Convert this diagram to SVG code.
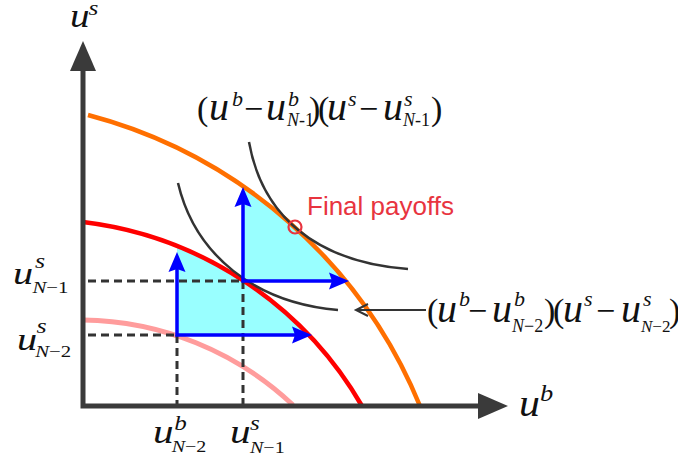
<svg xmlns="http://www.w3.org/2000/svg" width="678" height="461" viewBox="0 0 678 461">
<style>
.m{font-family:"Liberation Serif","Times New Roman",serif;fill:#111}
.i{font-style:italic}
.ax{stroke:#3a3a3a;stroke-width:5;fill:none}
.axh{fill:#3a3a3a}
.dash{stroke:#333;stroke-width:3;stroke-dasharray:8 5;fill:none}
.hyp{stroke:#333;stroke-width:2.5;fill:none}
.blue{stroke:#0000ff;stroke-width:3.5;fill:none;marker-start:url(#bh);marker-end:url(#bh)}
.cyan{fill:#99ffff}
</style>
<defs>
<marker id="bh" markerUnits="userSpaceOnUse" markerWidth="24" markerHeight="20" viewBox="0 -10 24 20" refX="3" refY="0" orient="auto-start-reverse">
<path d="M0,-8.5 L20,0 L0,8.5 L3,0 Z" fill="#0000ff"/>
</marker>
</defs>
<g id="regions">
<path class="cyan" d="M177,335 L177,246 A374,374 0 0,1 308.5,335 Z"/>
<path class="cyan" d="M243,281 L243,186.2 A495,495 0 0,1 345.7,281 Z"/>
</g>
<g id="frontiers">
<path id="pink" d="M83,320 A312,312 0 0,1 293,405" stroke="#ff9c9c" stroke-width="5" fill="none"/>
<path id="red" d="M83,222 A374,374 0 0,1 362,406" stroke="#ff0000" stroke-width="4.5" fill="none"/>
<path id="orange" d="M88,115 A495,495 0 0,1 420,406" stroke="#ff6f00" stroke-width="4.5" fill="none"/>
</g>
<g id="indifference">
<path class="hyp" d="M249,142 C262,215 315,262 408,269"/>
<path class="hyp" d="M178,183 C195,255 255,303 338,310"/>
</g>
<g id="connectors">
<path class="dash" d="M88,281 H243 M88,335 H177 M177,335 V404 M243,281 V404"/>
<path class="blue" d="M177,269 L177,335 L295,335"/>
<path class="blue" d="M243,204 L243,281 L332,281"/>
<path d="M426,310 H357 M368,304 L356,310 L368,316" stroke="#333" stroke-width="2" fill="none"/>
</g>
<g id="axes">
<path class="ax" d="M83,408.5 V66 M80.5,406 H480"/>
<polygon class="axh" points="83,41 70,71 96,71"/>
<polygon class="axh" points="508,406 478,393 478,419"/>
</g>
<g id="final-payoffs">
<circle cx="295" cy="227" r="6.5" fill="none" stroke="#e8343f" stroke-width="2.2"/>
<text x="307" y="215" font-family="'Liberation Sans',Arial,sans-serif" font-size="26" fill="#e8343f">Final payoffs</text>
</g>
<g id="labels">
<text class="m" font-size="34" transform="translate(70,27) scale(1.15,1)"><tspan class="i" x="0" y="0">u</tspan><tspan class="i" x="16" y="-12" font-size="22">s</tspan></text>
<text class="m" font-size="38" transform="translate(519,416) scale(1.1,1)"><tspan class="i" x="0" y="0">u</tspan><tspan class="i" x="19" y="-15" font-size="24">b</tspan></text>
<text class="m" font-size="31" transform="translate(13,284) scale(1.3,1)"><tspan class="i" x="0" y="0">u</tspan><tspan class="i" x="17" y="-16" font-size="20">s</tspan><tspan class="i" x="15" y="9" font-size="16">N</tspan><tspan font-size="16">−1</tspan></text>
<text class="m" font-size="31" transform="translate(17,350) scale(1.3,1)"><tspan class="i" x="0" y="0">u</tspan><tspan class="i" x="15" y="-17" font-size="20">s</tspan><tspan class="i" x="14" y="7" font-size="16">N</tspan><tspan font-size="16">−2</tspan></text>
<text class="m" font-size="33" transform="translate(153,443) scale(1.25,1)"><tspan class="i" x="0" y="0">u</tspan><tspan class="i" x="17" y="-13" font-size="20">b</tspan><tspan class="i" x="15" y="9" font-size="16">N</tspan><tspan font-size="16">−2</tspan></text>
<text class="m" font-size="33" transform="translate(230,443) scale(1.25,1)"><tspan class="i" x="0" y="0">u</tspan><tspan class="i" x="16" y="-13" font-size="20">s</tspan><tspan class="i" x="16" y="10" font-size="16">N</tspan><tspan font-size="16">−1</tspan></text>
<text class="m" font-size="34"><tspan x="197" y="120">(</tspan><tspan class="i" x="209" y="120" font-size="40">u</tspan><tspan class="i" x="232" y="106" font-size="22">b</tspan><tspan x="244" y="120">−</tspan><tspan class="i" x="266" y="120" font-size="40">u</tspan><tspan class="i" x="288" y="106" font-size="22">b</tspan><tspan class="i" x="287" y="126" font-size="18">N</tspan><tspan font-size="18">-1</tspan><tspan x="309" y="120">)</tspan><tspan x="318" y="120">(</tspan><tspan class="i" x="327" y="120" font-size="40">u</tspan><tspan class="i" x="348" y="106" font-size="22">s</tspan><tspan x="359" y="120">−</tspan><tspan class="i" x="383" y="120" font-size="40">u</tspan><tspan class="i" x="404" y="106" font-size="22">s</tspan><tspan class="i" x="403" y="126" font-size="18">N</tspan><tspan font-size="18">-1</tspan><tspan x="431" y="120">)</tspan></text>
<text class="m" font-size="34"><tspan x="427" y="322">(</tspan><tspan class="i" x="437" y="322" font-size="40">u</tspan><tspan class="i" x="459" y="306" font-size="22">b</tspan><tspan x="468" y="322">−</tspan><tspan class="i" x="492" y="322" font-size="40">u</tspan><tspan class="i" x="514" y="306" font-size="22">b</tspan><tspan class="i" x="512" y="332" font-size="18">N</tspan><tspan font-size="18">−2</tspan><tspan x="544" y="322">)</tspan><tspan x="553" y="322">(</tspan><tspan class="i" x="563" y="322" font-size="40">u</tspan><tspan class="i" x="584" y="306" font-size="22">s</tspan><tspan x="596" y="322">−</tspan><tspan class="i" x="621" y="322" font-size="40">u</tspan><tspan class="i" x="643" y="306" font-size="22">s</tspan><tspan class="i" x="641" y="332" font-size="17">N</tspan><tspan font-size="17">−2</tspan><tspan x="669" y="322">)</tspan></text>
</g>
</svg>
